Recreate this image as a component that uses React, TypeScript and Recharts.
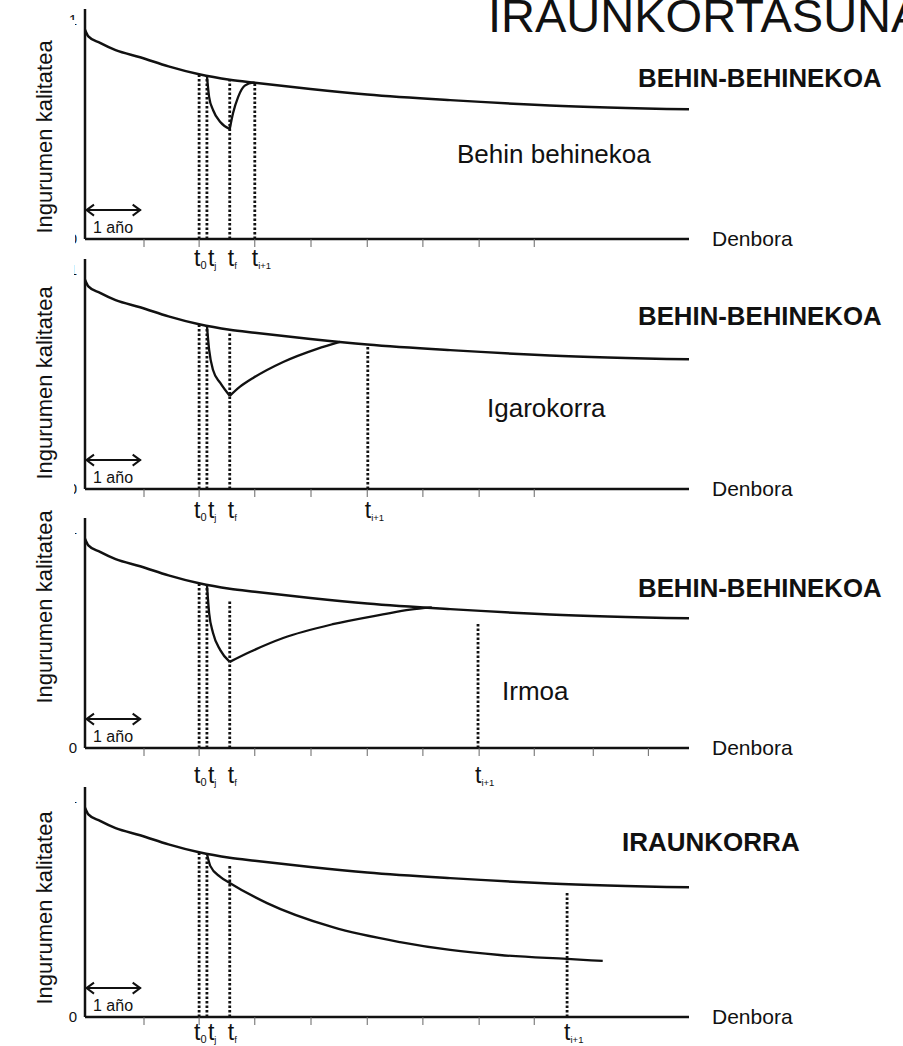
import React from "react";
import { LineChart, Line, XAxis, YAxis, ReferenceLine } from "recharts";

const FONT = "'Liberation Sans', Arial, Helvetica, sans-serif";
const INK = "#111";

// x = years since start, y = environmental quality (0..1)
const BASELINE = [
  [0, 0.955], [0.06, 0.925], [0.27, 0.895], [0.55, 0.862], [0.99, 0.83],
  [1.5, 0.788], [2.05, 0.752], [2.6, 0.727], [3.05, 0.713], [4.05, 0.685],
  [5.07, 0.66], [6.56, 0.634], [8.35, 0.61], [10.85, 0.592],
];

const TICKS = [1.06, 2.05, 3.05, 4.06, 5.07, 6.07, 7.08, 8.07];
const TICKS_LONG = [...TICKS, 9.13, 10.12];

// panel 1: behin behinekoa
const DROP_1 = [[2.19, 0.745], [2.23, 0.648], [2.3, 0.589], [2.43, 0.534], [2.6, 0.502]];
const RISE_1 = [[2.6, 0.502], [2.66, 0.575], [2.75, 0.648], [2.87, 0.7], [3.02, 0.714], [3.05, 0.713]];
const EVENTS_1 = [2.05, 2.19, 2.6, 3.05];
const TOPS_1 = [0.755, 0.745, 0.727, 0.713];

// panel 2: igarokorra
const DROP_2 = [[2.19, 0.745], [2.23, 0.635], [2.3, 0.543], [2.43, 0.484], [2.6, 0.425]];
const RISE_2 = [[2.6, 0.425], [2.78, 0.466], [3.02, 0.507], [3.56, 0.58], [4.17, 0.64], [4.58, 0.672]];
const EVENTS_2 = [2.05, 2.19, 2.6, 5.08];
const TOPS_2 = [0.752, 0.745, 0.712, 0.66];

// panel 3: irmoa
const DROP_3 = [[2.19, 0.745], [2.23, 0.616], [2.3, 0.525], [2.43, 0.447], [2.6, 0.393]];
const RISE_3 = [[2.6, 0.393], [2.96, 0.438], [3.56, 0.502], [4.45, 0.565], [5.35, 0.61], [5.84, 0.632], [6.23, 0.642]];
const EVENTS_3 = [2.05, 2.19, 2.6, 7.06];
const TOPS_3 = [0.752, 0.745, 0.676, 0.575];

// panel 4: iraunkorra
const DECAY_4 = [
  [2.19, 0.745], [2.25, 0.69], [2.43, 0.64], [2.6, 0.612], [3.27, 0.52], [4.45, 0.41],
  [5.66, 0.342], [6.56, 0.306], [7.45, 0.283], [8.66, 0.265], [9.3, 0.256],
];
const EVENTS_4 = [2.05, 2.19, 2.6, 8.66];
const TOPS_4 = [0.752, 0.745, 0.694, 0.571];

const EVENT_SUBS = ["0", "j", "f", "i+1"];
const LABEL_DX = [-5, 1, -2, -3];
const ARROW_Y = 0.132;

const toPts = (arr: number[][]) => arr.map(([x, y]) => ({ x, y }));

const PANELS = [
  { top: -1, ticks: TICKS, curves: [DROP_1, RISE_1], events: EVENTS_1, tops: TOPS_1, labelDy: 27 },
  { top: 249, ticks: TICKS, curves: [DROP_2, RISE_2], events: EVENTS_2, tops: TOPS_2, labelDy: 29 },
  { top: 508, ticks: TICKS_LONG, curves: [DROP_3, RISE_3], events: EVENTS_3, tops: TOPS_3, labelDy: 35 },
  { top: 777, ticks: TICKS, curves: [DECAY_4], events: EVENTS_4, tops: TOPS_4, labelDy: 23 },
];

function Arrow(p: any) {
  const { x1, y1, x2 } = p;
  return (
    <g stroke={INK} strokeWidth={2} fill="none">
      <line x1={x1 + 1} y1={y1} x2={x2} y2={y1} />
      <polyline points={`${x1 + 9},${y1 - 5.5} ${x1 + 1.5},${y1} ${x1 + 9},${y1 + 5.5}`} />
      <polyline points={`${x2 - 8},${y1 - 5.5} ${x2 - 0.5},${y1} ${x2 - 8},${y1 + 5.5}`} />
    </g>
  );
}

function EventLabel({ viewBox, sub, dx, dy }: any) {
  if (!viewBox) return null;
  const x = viewBox.x + dx;
  const y = viewBox.y + viewBox.height + dy;
  return (
    <text x={x} y={y} fontSize={23} fontFamily={FONT} fill={INK}>
      t
      <tspan fontSize={sub === "0" ? 11 : 9.5} dy={3}>
        {sub}
      </tspan>
    </text>
  );
}

function Panel({ top, ticks, curves, events, tops, labelDy }: any) {
  return (
    <div style={{ position: "absolute", left: 0, top }}>
      <LineChart width={903} height={280} margin={{ top: 10, right: 214, bottom: 0, left: 65 }}>
        <XAxis
          type="number"
          dataKey="x"
          domain={[0, 10.85]}
          ticks={ticks}
          interval={0}
          allowDataOverflow
          tickFormatter={() => ""}
          tickSize={8}
          tickLine={{ stroke: "#666", strokeWidth: 1 }}
          axisLine={{ stroke: INK, strokeWidth: 2.5 }}
          height={40}
        />
        <YAxis
          type="number"
          domain={[0, 1.05]}
          ticks={[0, 1]}
          allowDataOverflow
          width={20}
          tickLine={false}
          axisLine={{ stroke: INK, strokeWidth: 2.5 }}
          tick={{ fontSize: 15, fill: INK, fontFamily: FONT }}
        />
        {events.map((t: number, i: number) => (
          <Line
            key={"d" + i}
            data={[{ x: t, y: 0 }, { x: t, y: tops[i] }]}
            dataKey="y"
            type="linear"
            stroke={INK}
            strokeWidth={2.8}
            strokeDasharray="2.5 2"
            dot={false}
            isAnimationActive={false}
          />
        ))}
        <Line
          data={toPts(BASELINE)}
          dataKey="y"
          type="monotone"
          stroke={INK}
          strokeWidth={2.5}
          dot={false}
          isAnimationActive={false}
        />
        {curves.map((c: number[][], i: number) => (
          <Line
            key={i}
            data={toPts(c)}
            dataKey="y"
            type="monotone"
            stroke={INK}
            strokeWidth={2.3}
            dot={false}
            isAnimationActive={false}
          />
        ))}
        {events.map((t: number, i: number) => (
          <ReferenceLine
            key={"e" + i}
            segment={[{ x: t, y: 0 }, { x: t, y: tops[i] }]}
            stroke="none"
            label={{
              content: (p: any) => (
                <EventLabel viewBox={p.viewBox} sub={EVENT_SUBS[i]} dx={LABEL_DX[i]} dy={labelDy} />
              ),
            }}
          />
        ))}
        <ReferenceLine segment={[{ x: 0, y: ARROW_Y }, { x: 1, y: ARROW_Y }]} shape={Arrow} />
      </LineChart>
    </div>
  );
}

const AXIS_Y = [239, 489, 748, 1017];
const LABEL_CY = [137, 383, 607, 908];
const WHITE_BOXES = [
  [10, 20, 65, 225],
  [10, 255, 64, 240],
  [10, 497, 65, 214],
  [10, 785, 65, 225],
];

export default function App() {
  return (
    <div
      style={{
        position: "absolute",
        left: 0,
        top: 0,
        width: 903,
        height: 1046,
        overflow: "hidden",
        background: "#fff",
        fontFamily: FONT,
      }}
    >
      {PANELS.map((p, i) => (
        <Panel key={i} {...p} />
      ))}
      <svg
        width={903}
        height={1046}
        style={{ position: "absolute", left: 0, top: 0, pointerEvents: "none" }}
        fontFamily={FONT}
        fill={INK}
      >
        {WHITE_BOXES.map(([x, y, w, h], i) => (
          <rect key={"b" + i} x={x} y={y} width={w} height={h} fill="#fff" />
        ))}
        {LABEL_CY.map((cy, i) => (
          <text
            key={"l" + i}
            x={0}
            y={0}
            fontSize={22}
            textAnchor="middle"
            dominantBaseline="central"
            transform={`translate(44 ${cy}) rotate(-90)`}
          >
            Ingurumen kalitatea
          </text>
        ))}
        {AXIS_Y.map((ay, i) => (
          <React.Fragment key={"a" + i}>
            <text x={93} y={ay - 6} fontSize={16}>1 año</text>
            <text x={712} y={ay + 7} fontSize={21}>Denbora</text>
          </React.Fragment>
        ))}
        <text x={488} y={32} fontSize={47}>IRAUNKORTASUNA</text>
        <text x={638} y={87} fontSize={25.8} fontWeight="bold">BEHIN-BEHINEKOA</text>
        <text x={638} y={325} fontSize={25.8} fontWeight="bold">BEHIN-BEHINEKOA</text>
        <text x={638} y={597} fontSize={25.8} fontWeight="bold">BEHIN-BEHINEKOA</text>
        <text x={622} y={851} fontSize={26} fontWeight="bold">IRAUNKORRA</text>
        <text x={457} y={163} fontSize={26}>Behin behinekoa</text>
        <text x={487} y={417} fontSize={26}>Igarokorra</text>
        <text x={502} y={700} fontSize={26}>Irmoa</text>
      </svg>
    </div>
  );
}
